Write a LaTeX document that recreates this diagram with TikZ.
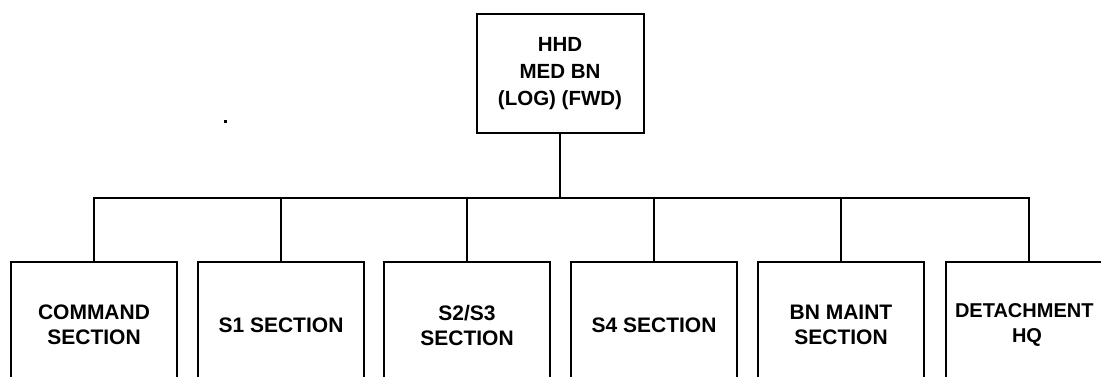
\documentclass[tikz,border=0pt]{standalone}
\usepackage{fontspec}
\setmainfont{Liberation Sans}
\begin{document}
\begin{tikzpicture}[x=1pt,y=-1pt,
  box/.style={draw, line width=2pt, minimum width=166pt, align=center, inner sep=0pt,
    font=\fontsize{21}{25}\selectfont\bfseries},
  link/.style={line width=2pt}]
\clip (0,0) rectangle (1101,376);
\fill[white] (0,0) rectangle (1101,376);
\node[box, minimum width=167pt, minimum height=119pt,
  font=\fontsize{20.5}{27}\selectfont\bfseries] (top) at (560,73.5) {HHD\\MED BN\\(LOG) (FWD)};
\node[box, minimum height=126pt] (c1) at (94,325) {COMMAND\\SECTION};
\node[box, minimum height=126pt] (c2) at (281,325) {S1 SECTION};
\node[box, minimum height=126pt] (c3) at (467,325) {S2/S3\\SECTION};
\node[box, minimum height=126pt] (c4) at (654,325) {S4 SECTION};
\node[box, minimum height=126pt] (c5) at (841,325) {BN MAINT\\SECTION};
\node[box, minimum height=126pt, text width=166pt, align=left,
  font=\fontsize{20}{25}\selectfont\bfseries] (c6) at (1029,325)
  {\hspace*{9pt}DETACHMENT\\\hspace*{66pt}HQ};
\coordinate (j) at (560,198);
\draw[link] (top.south) -- (j);
\foreach \c in {c1,c2,c3,c4,c5,c6}{\draw[link] (j) -| (\c.north);}
\fill (224,120) rectangle (226.5,122.5);
\end{tikzpicture}
\end{document}
